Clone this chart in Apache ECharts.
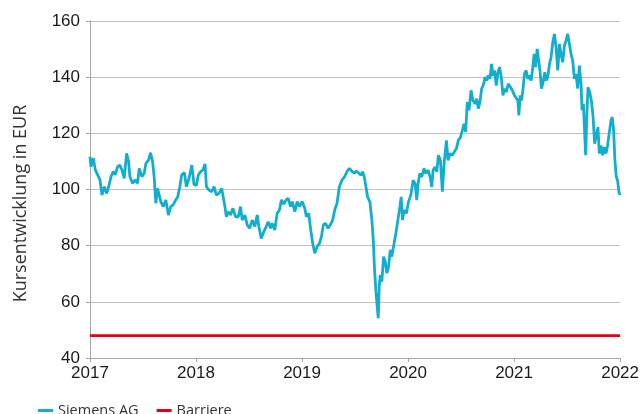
<!DOCTYPE html>
<html>
<head>
<meta charset="utf-8">
<script src="https://cdn.jsdelivr.net/npm/echarts/dist/echarts.min.js"></script>
<style>
  html, body { margin: 0; padding: 0; background: #fff; }
  #chart { width: 642px; height: 414px; }
</style>
</head>
<body>
<div id="chart"></div>
<script>
// price path, time in fractional years
const siemensYears = [
  2017.000, 2017.009, 2017.031, 2017.050, 2017.072, 2017.094, 2017.113, 2017.135, 2017.157, 2017.176,
  2017.198, 2017.220, 2017.238, 2017.260, 2017.282, 2017.301, 2017.323, 2017.345, 2017.364, 2017.376,
  2017.401, 2017.426, 2017.448, 2017.464, 2017.489, 2017.511, 2017.527, 2017.552, 2017.571, 2017.590,
  2017.605, 2017.621, 2017.637, 2017.652, 2017.668, 2017.690, 2017.715, 2017.740, 2017.762, 2017.784,
  2017.809, 2017.828, 2017.847, 2017.865, 2017.891, 2017.909, 2017.934, 2017.960, 2017.981, 2018.003,
  2018.022, 2018.044, 2018.066, 2018.085, 2018.098, 2018.123, 2018.148, 2018.170, 2018.192, 2018.217,
  2018.242, 2018.254, 2018.273, 2018.286, 2018.304, 2018.326, 2018.348, 2018.373, 2018.399, 2018.420,
  2018.436, 2018.461, 2018.483, 2018.505, 2018.530, 2018.555, 2018.577, 2018.593, 2018.615, 2018.640,
  2018.662, 2018.681, 2018.703, 2018.718, 2018.743, 2018.765, 2018.787, 2018.806, 2018.828, 2018.850,
  2018.869, 2018.891, 2018.907, 2018.932, 2018.954, 2018.976, 2019.001, 2019.026, 2019.041, 2019.063,
  2019.082, 2019.101, 2019.120, 2019.142, 2019.164, 2019.183, 2019.201, 2019.220, 2019.245, 2019.267,
  2019.289, 2019.308, 2019.330, 2019.352, 2019.377, 2019.402, 2019.424, 2019.446, 2019.471, 2019.496,
  2019.509, 2019.534, 2019.556, 2019.571, 2019.587, 2019.603, 2019.618, 2019.640, 2019.659, 2019.672,
  2019.684, 2019.697, 2019.709, 2019.719, 2019.728, 2019.738, 2019.753, 2019.769, 2019.785, 2019.800,
  2019.816, 2019.832, 2019.847, 2019.863, 2019.885, 2019.904, 2019.923, 2019.935, 2019.948, 2019.963,
  2019.985, 2020.004, 2020.026, 2020.048, 2020.067, 2020.082, 2020.095, 2020.111, 2020.129, 2020.151,
  2020.167, 2020.189, 2020.208, 2020.224, 2020.236, 2020.255, 2020.271, 2020.286, 2020.305, 2020.324,
  2020.340, 2020.362, 2020.377, 2020.396, 2020.418, 2020.437, 2020.456, 2020.474, 2020.496, 2020.512,
  2020.528, 2020.543, 2020.559, 2020.575, 2020.594, 2020.612, 2020.631, 2020.647, 2020.663, 2020.678,
  2020.694, 2020.713, 2020.725, 2020.741, 2020.757, 2020.772, 2020.788, 2020.801, 2020.816, 2020.832,
  2020.848, 2020.863, 2020.879, 2020.895, 2020.910, 2020.926, 2020.945, 2020.961, 2020.976, 2020.989,
  2021.004, 2021.020, 2021.036, 2021.045, 2021.058, 2021.070, 2021.083, 2021.098, 2021.114, 2021.130,
  2021.145, 2021.161, 2021.177, 2021.189, 2021.202, 2021.218, 2021.233, 2021.246, 2021.258, 2021.274,
  2021.290, 2021.302, 2021.318, 2021.334, 2021.349, 2021.365, 2021.381, 2021.396, 2021.412, 2021.428,
  2021.443, 2021.459, 2021.475, 2021.490, 2021.506, 2021.522, 2021.537, 2021.553, 2021.569, 2021.584,
  2021.600, 2021.616, 2021.632, 2021.641, 2021.654, 2021.666, 2021.675, 2021.685, 2021.697, 2021.713,
  2021.729, 2021.744, 2021.760, 2021.776, 2021.791, 2021.804, 2021.820, 2021.835, 2021.851, 2021.867,
  2021.882, 2021.898, 2021.914, 2021.926, 2021.939, 2021.951, 2021.964, 2021.976, 2021.989, 2021.998
];
const siemensPrices = [
  111.7, 108.1, 111.1, 107.0, 105.2, 103.4, 98.0, 101.0, 98.6, 101.0,
  104.6, 106.4, 105.2, 108.1, 108.7, 107.0, 104.0, 112.9, 110.0, 104.6,
  102.2, 103.4, 102.2, 107.5, 104.6, 105.8, 109.3, 110.5, 113.1, 110.0,
  104.6, 95.1, 100.4, 101.0, 95.7, 93.9, 96.3, 90.9, 93.9, 94.5,
  96.3, 97.4, 101.0, 105.2, 106.0, 101.0, 104.0, 108.7, 101.8, 101.4,
  105.2, 106.4, 107.0, 109.1, 101.0, 99.8, 99.2, 101.0, 98.0, 98.6,
  100.4, 99.8, 93.9, 90.3, 92.1, 90.9, 93.3, 90.3, 90.3, 93.9,
  89.1, 90.9, 87.4, 86.2, 89.1, 86.8, 90.9, 86.8, 82.6, 85.0,
  86.8, 88.5, 86.2, 88.0, 85.6, 91.5, 92.7, 96.3, 94.8, 96.3,
  96.9, 93.9, 95.7, 92.1, 95.7, 93.9, 95.7, 93.3, 90.3, 91.5,
  85.6, 80.8, 77.3, 79.6, 80.8, 83.2, 87.4, 88.0, 86.2, 87.4,
  89.1, 92.7, 95.1, 101.0, 103.4, 104.6, 106.4, 107.5, 106.4, 105.8,
  106.6, 105.9, 105.1, 106.3, 104.5, 100.9, 97.4, 95.6, 89.1, 82.0,
  71.4, 63.7, 58.3, 54.2, 65.4, 69.6, 67.2, 76.1, 74.3, 70.2,
  72.5, 78.5, 76.1, 79.6, 84.4, 89.1, 93.8, 97.4, 89.1, 92.7,
  91.5, 95.6, 98.0, 103.3, 102.1, 96.2, 102.1, 105.7, 104.5, 107.5,
  105.7, 106.9, 104.5, 100.9, 106.9, 108.0, 106.3, 112.2, 110.4, 99.2,
  109.2, 117.5, 110.4, 112.8, 112.2, 113.4, 114.6, 117.5, 118.7, 118.1,
  123.4, 120.5, 131.1, 128.2, 135.3, 131.7, 130.5, 132.3, 128.8, 131.1,
  135.9, 137.6, 140.0, 138.8, 140.6, 139.4, 144.7, 140.6, 142.4, 137.0,
  141.8, 143.6, 140.0, 133.5, 135.9, 134.7, 137.6, 137.0, 135.9, 135.3,
  133.5, 132.9, 131.7, 126.4, 133.5, 131.7, 135.3, 141.2, 142.4, 139.4,
  140.6, 138.8, 143.6, 148.3, 143.6, 150.1, 149.5, 141.8, 135.9, 138.2,
  141.8, 138.8, 140.0, 144.7, 147.1, 152.4, 155.4, 150.7, 142.4, 151.8,
  148.3, 145.3, 151.2, 153.0, 155.4, 151.8, 148.3, 145.9, 139.4, 141.2,
  135.9, 144.1, 137.6, 128.2, 130.5, 119.9, 112.2, 124.6, 136.4, 134.7,
  131.7, 126.4, 116.3, 115.7, 122.2, 112.8, 115.7, 112.2, 115.1, 112.8,
  115.7, 116.3, 124.6, 125.8, 121.1, 110.4, 104.5, 103.3, 99.2, 98.0
];
const barrierYears = [2017, 2022];
const barrierLevel = 48;
const seriesNames = ["Siemens AG", "Barriere"];

const chart = echarts.init(document.getElementById("chart"));
chart.setOption({
  animation: false,
  grid: { left: 90, right: 20.5, top: 21, bottom: 56 },
  legend: {
    data: seriesNames,
    left: 33,
    top: 398,
    icon: "rect",
    itemWidth: 15,
    itemHeight: 3,
    itemGap: 18,
    textStyle: { fontFamily: "Open Sans", fontSize: 14.5, color: "#333" },
  },
  xAxis: {
    type: "value",
    min: 2017,
    max: 2022,
    interval: 1,
    axisLine: { lineStyle: { color: "#a6a6a6", width: 1 } },
    axisTick: { show: true, length: 4, lineStyle: { color: "#a6a6a6" } },
    splitLine: { show: false },
    axisLabel: {
      formatter: (v) => String(v),
      margin: 7,
      fontFamily: "Liberation Sans",
      fontSize: 17,
      color: "#1a1a1a",
    },
  },
  yAxis: {
    type: "value",
    min: 40,
    max: 160,
    interval: 20,
    name: "Kursentwicklung in EUR",
    nameLocation: "middle",
    nameGap: 60,
    nameTextStyle: {
      fontFamily: "Open Sans",
      fontSize: 18,
      color: "#333",
      padding: [0, 28, 0, 0],
    },
    axisLine: { show: true, lineStyle: { color: "#a6a6a6", width: 1 } },
    axisTick: { show: true, length: 4, lineStyle: { color: "#a6a6a6" } },
    splitLine: { lineStyle: { color: "#c2c2c2", width: 1 } },
    axisLabel: {
      margin: 10,
      fontFamily: "Liberation Sans",
      fontSize: 17,
      color: "#1a1a1a",
    },
  },
  series: [
    {
      name: seriesNames[0],
      type: "line",
      data: siemensYears.map((t, i) => [t, siemensPrices[i]]),
      showSymbol: false,
      color: "#12aecf",
      lineStyle: { width: 2.8, color: "#12aecf" },
    },
    {
      name: seriesNames[1],
      type: "line",
      data: barrierYears.map((t) => [t, barrierLevel]),
      showSymbol: false,
      color: "#e2001a",
      lineStyle: { width: 2.8, color: "#e2001a" },
    },
  ],
});
</script>
</body>
</html>
